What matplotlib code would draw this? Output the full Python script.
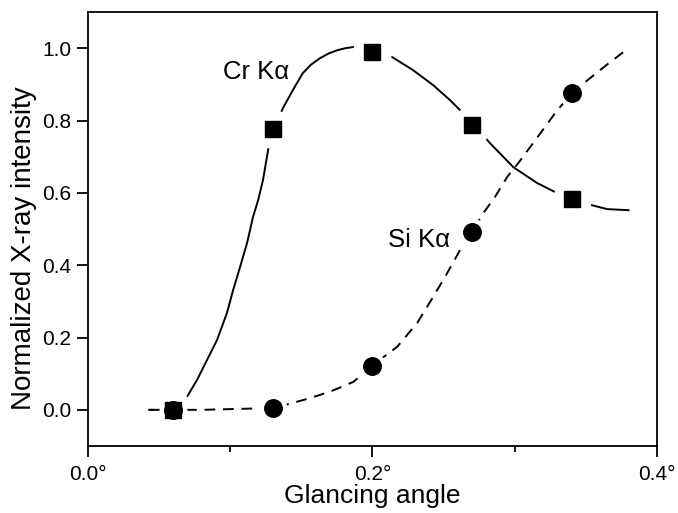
import matplotlib.pyplot as plt

plt.rcParams['font.family'] = ['Liberation Sans', 'DejaVu Sans']

# measured points
angle = [0.06, 0.13, 0.20, 0.27, 0.34]
cr_ka = [0.0, 0.777, 0.990, 0.787, 0.583]
si_ka = [0.0, 0.006, 0.122, 0.492, 0.875]

# fitted curves
cr_fit_x = [0.043, 0.055, 0.06, 0.0696, 0.0767, 0.0837, 0.0907, 0.0977, 0.102, 0.1069,
            0.1118, 0.116, 0.1196, 0.123, 0.1266, 0.13, 0.137, 0.144, 0.151, 0.157,
            0.163, 0.169, 0.175, 0.181, 0.188, 0.194, 0.2, 0.207, 0.214, 0.2286,
            0.2426, 0.2546, 0.263, 0.27, 0.2827, 0.299, 0.3158, 0.3284, 0.34, 0.351,
            0.365, 0.38]
cr_fit_y = [0.0, 0.0, 0.003, 0.036, 0.083, 0.138, 0.193, 0.268, 0.331, 0.395,
            0.461, 0.533, 0.58, 0.635, 0.718, 0.77, 0.834, 0.884, 0.931, 0.955,
            0.972, 0.985, 0.994, 1.0, 1.004, 1.0, 0.992, 0.985, 0.975, 0.939,
            0.898, 0.856, 0.823, 0.795, 0.737, 0.671, 0.627, 0.602, 0.583, 0.569,
            0.555, 0.552]
si_fit_x = [0.043, 0.06, 0.08, 0.10, 0.12, 0.13, 0.140, 0.154, 0.170, 0.1864, 0.2,
            0.205, 0.2173, 0.2314, 0.2426, 0.2525, 0.2616, 0.27, 0.277, 0.286, 0.2947,
            0.304, 0.316, 0.33, 0.34, 0.351, 0.365, 0.379]
si_fit_y = [0.0, 0.0, 0.0, 0.002, 0.004, 0.007, 0.015, 0.03, 0.05, 0.077, 0.12,
            0.138, 0.174, 0.24, 0.312, 0.378, 0.442, 0.49, 0.539, 0.588, 0.644,
            0.69, 0.754, 0.829, 0.874, 0.911, 0.955, 0.997]

fig = plt.figure(figsize=(6.78, 5.13), dpi=100)
ax = fig.add_axes([0.1298, 0.1306, 0.969 - 0.1298, 0.9766 - 0.1306])

# solid Cr curve, white halos cut it open round the squares
ax.plot(cr_fit_x, cr_fit_y, '-', color='black', lw=1.4, zorder=2)
ax.plot(angle, cr_ka, 'o', color='white', ms=27, mec='white', zorder=2.5)

# dashed Si curve, white halos round the circles
ax.plot(si_fit_x, si_fit_y, '--', color='black', lw=1.4, dashes=(5.5, 4), zorder=3)
ax.plot(angle, si_ka, 'o', color='white', ms=19, mec='white', zorder=3.5)

ax.plot(angle, si_ka, 'o', color='black', ms=12.6, zorder=4)
ax.plot(angle, cr_ka, 's', color='black', ms=11.5, zorder=5)

ax.text(0.118, 0.935, 'Cr K\u03b1', fontsize=18.5, ha='center', va='center')
ax.text(0.233, 0.47, 'Si K\u03b1', fontsize=18.5, ha='center', va='center')

ax.set_xlim(0.0, 0.4)
ax.set_ylim(-0.1, 1.1)
ax.set_xticks([0.0, 0.2, 0.4])
ax.set_xticklabels(['0.0\u00b0', '0.2\u00b0', '0.4\u00b0'])
ax.set_xticks([0.1, 0.3], minor=True)
ax.set_yticks([0.0, 0.2, 0.4, 0.6, 0.8, 1.0])
ax.set_yticklabels(['0.0', '0.2', '0.4', '0.6', '0.8', '1.0'])
ax.tick_params(axis='both', which='major', direction='out', length=8, width=1.3,
               labelsize=15)
ax.tick_params(axis='x', which='minor', direction='out', length=4.5, width=1.3)
ax.tick_params(axis='x', pad=6)
ax.tick_params(axis='y', pad=4)

for s in ax.spines.values():
    s.set_linewidth(1.3)

ax.set_xlabel('Glancing angle', fontsize=19, labelpad=0)
ax.set_ylabel('Normalized X-ray intensity', fontsize=20)
ax.yaxis.set_label_coords(-0.09, 0.455)

fig.savefig('out.png', dpi=100)
